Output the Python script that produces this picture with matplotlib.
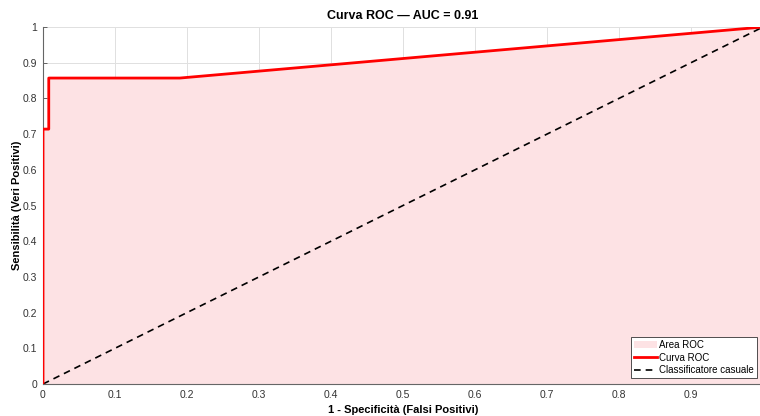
import matplotlib
matplotlib.use("Agg")
import matplotlib.pyplot as plt
import numpy as np

plt.rcParams['font.family'] = ['Liberation Sans', 'DejaVu Sans']

# ROC curve points
fpr = [0.0, 0.0, 0.008, 0.008, 0.19, 1.0]
tpr = [0.0, 0.714, 0.714, 0.857, 0.857, 1.0]
auc_value = 0.91
diag = [0.0, 1.0]
xticks = [0, 0.1, 0.2, 0.3, 0.4, 0.5, 0.6, 0.7, 0.8, 0.9, 1]
yticks = [0, 0.1, 0.2, 0.3, 0.4, 0.5, 0.6, 0.7, 0.8, 0.9, 1]

fig = plt.figure(figsize=(7.6, 4.16), dpi=100)
ax = fig.add_axes([43/760, 32/416, 720/760, 357/416])

ax.fill_between(fpr, tpr, 0, color='#fde2e4', linewidth=0, label='Area ROC', zorder=1)
ax.plot(fpr, tpr, color='#ff0000', linewidth=2.0, label='Curva ROC', zorder=3)
ax.plot(diag, diag, color='black', linestyle=(0, (4, 3)), linewidth=1.2,
        label='Classificatore casuale', zorder=2)

ax.set_xlim(0, 1)
ax.set_ylim(0, 1)
ax.set_xticks(xticks)
ax.set_yticks(yticks)
# the last x label falls past the figure edge, so it stays blank
ax.set_xticklabels([f"{t:g}" if t < 1 else "" for t in xticks])
ax.set_yticklabels([f"{t:g}" for t in yticks])
ax.grid(True, color='#e0e0e0', linewidth=0.7, zorder=0)
ax.set_axisbelow(True)
ax.tick_params(direction='in', length=3, width=0.6, colors='#4d4d4d',
               labelsize=7.5, labelcolor='#333333', pad=4)
for side in ['top', 'right']:
    ax.spines[side].set_visible(False)
for side in ['left', 'bottom']:
    ax.spines[side].set_color('#666666')
    ax.spines[side].set_linewidth(0.8)

ax.set_title(f"Curva ROC — AUC = {auc_value:.2f}", fontsize=9, fontweight='bold', pad=6)
ax.set_xlabel("1 - Specificità (Falsi Positivi)", fontsize=8, fontweight='bold', labelpad=4)
ax.set_ylabel("Sensibilità (Veri Positivi)", fontsize=8, fontweight='bold', labelpad=1)

leg = ax.legend(loc='lower right', bbox_to_anchor=(757/760, 38/416),
                bbox_transform=fig.transFigure, fontsize=7, frameon=True,
                fancybox=False, edgecolor='#333333', framealpha=1,
                borderpad=0.3, labelspacing=0.25, handlelength=2.4, handletextpad=0.2,
                borderaxespad=0)
leg.get_frame().set_linewidth(0.6)

fig.savefig("out.png", dpi=100)
